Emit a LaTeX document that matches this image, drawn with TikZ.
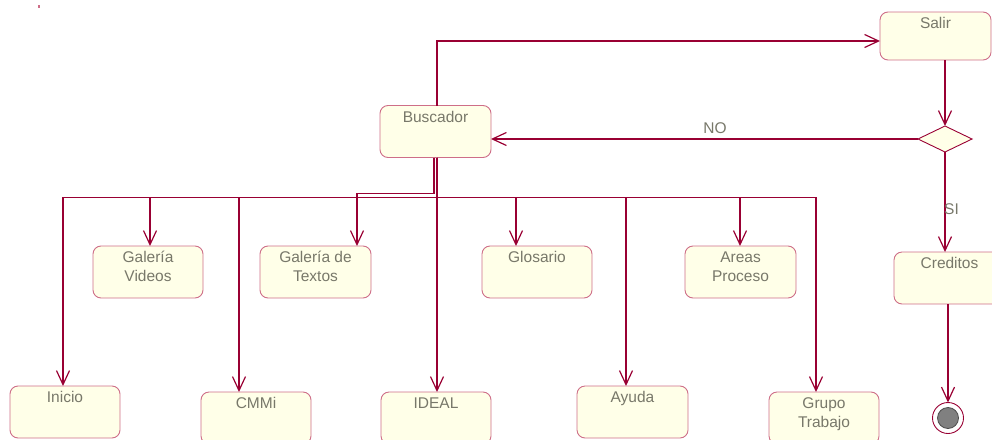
\documentclass[tikz,border=0pt]{standalone}
\usepackage{fontspec}
\setmainfont{Liberation Sans}
\usetikzlibrary{arrows.meta,shapes.geometric}
\definecolor{flow}{RGB}{153,0,51}
\definecolor{stateedge}{RGB}{206,110,136}
\definecolor{statefill}{RGB}{255,255,232}
\definecolor{statetext}{RGB}{120,120,106}
\definecolor{corefill}{RGB}{128,128,128}
\begin{document}
\begin{tikzpicture}[x=1pt,y=-1pt,
  state/.style={draw=stateedge, fill=statefill, line width=0.9pt,
    rounded corners=8pt, minimum width=111pt, minimum height=52pt,
    inner sep=0pt, outer sep=0pt},
  stxt/.style={anchor=north, inner sep=0pt, text=statetext, align=center,
    font=\fontsize{15.5}{19}\selectfont},
  lab/.style={inner sep=0pt, text=statetext, font=\fontsize{15.5}{19}\selectfont},
  conn/.style={draw=flow, line width=1.8pt,
    -{Straight Barb[length=14pt,width=13pt,line width=1.2pt]}},
  decision/.style={diamond, draw=flow, fill=statefill, line width=0.9pt,
    minimum width=54pt, minimum height=26pt, inner sep=0pt, outer sep=0pt}]
\useasboundingbox (0,0) rectangle (992,439);
\clip (0,0) rectangle (992,439);

% small mark in the corner
\fill[stateedge] (38,5) rectangle (39.5,7.5);

% states
\node[state] (busc) at (435.5,131.5) {};
\node[stxt] (busc-t) at ([yshift=-1.5pt]busc.north) {\rule{0pt}{15pt}Buscador};
\node[state, minimum height=48pt] (salir) at (935.5,36) {};
\node[stxt] (salir-t) at ([yshift=-1.5pt]salir.north) {\rule{0pt}{15pt}Salir};
\node[decision] (dec) at (945,139) {};
\node[state] (cred) at (949.5,278) {};
\node[stxt] (cred-t) at ([yshift=-1.5pt]cred.north) {\rule{0pt}{15pt}Creditos};
\node[circle, draw=flow, fill=white, line width=0.9pt, minimum size=31pt,
  inner sep=0pt, outer sep=0pt] (fin) at (948,418) {};
\node[circle, draw=black!70, fill=corefill, line width=0.8pt, minimum size=21pt,
  inner sep=0pt] (fin-core) at (fin) {};

\node[state, minimum width=110pt] (gvid) at (148,272) {};
\node[stxt] (gvid-t) at ([yshift=-1.5pt]gvid.north) {\rule{0pt}{15pt}Galería\\Videos};
\node[state] (gtxt) at (315.5,272) {};
\node[stxt] (gtxt-t) at ([yshift=-1.5pt]gtxt.north) {\rule{0pt}{15pt}Galería de\\Textos};
\node[state, minimum width=110pt] (glos) at (537,272) {};
\node[stxt] (glos-t) at ([yshift=-1.5pt]glos.north) {\rule{0pt}{15pt}Glosario};
\node[state] (areas) at (740.5,272) {};
\node[stxt] (areas-t) at ([yshift=-1.5pt]areas.north) {\rule{0pt}{15pt}Areas\\Proceso};

\node[state, minimum width=110pt] (ini) at (65,412) {};
\node[stxt] (ini-t) at ([yshift=-1.5pt]ini.north) {\rule{0pt}{15pt}Inicio};
\node[state, minimum width=110pt] (cmmi) at (256,418) {};
\node[stxt] (cmmi-t) at ([yshift=-1.5pt]cmmi.north) {\rule{0pt}{15pt}CMMi};
\node[state, minimum width=110pt] (ideal) at (436,418) {};
\node[stxt] (ideal-t) at ([yshift=-1.5pt]ideal.north) {\rule{0pt}{15pt}IDEAL};
\node[state] (ayuda) at (632.5,412) {};
\node[stxt] (ayuda-t) at ([yshift=-1.5pt]ayuda.north) {\rule{0pt}{15pt}Ayuda};
\node[state, minimum width=110pt] (grupo) at (824,418) {};
\node[stxt] (grupo-t) at ([yshift=-1.5pt]grupo.north) {\rule{0pt}{15pt}Grupo\\Trabajo};

% transitions on the right
\draw[conn] ([xshift=1.5pt]busc.north) |- ([yshift=-5pt]salir.west);
\draw[conn] (salir.south -| dec.north) -- (dec.north);
\draw[conn] (dec.west) -- (dec.west -| busc.east);
\node[lab] (lno) at (715,128) {NO};
\draw[conn] (dec.south) -- (dec.south |- cred.north);
\node[lab] (lsi) at (951.5,209) {SI};
\draw[conn] (cred.south -| fin.north) -- (fin.north);

% transitions out of the search state
\draw[conn] ([xshift=1.5pt]busc.south) -- ++(0,40) -| ([xshift=-2pt]ini.north);
\draw[conn] ([xshift=1.5pt]busc.south) -- ++(0,40) -| ([xshift=2pt]gvid.north);
\draw[conn] ([xshift=1.5pt]busc.south) -- ++(0,40) -| ([xshift=-17pt]cmmi.north);
\draw[conn] ([xshift=1.5pt]busc.south) -- ([xshift=1pt]ideal.north);
\draw[conn] ([xshift=1.5pt]busc.south) -- ++(0,40) -| ([xshift=-21pt]glos.north);
\draw[conn] ([xshift=1.5pt]busc.south) -- ++(0,40) -| ([xshift=-6.5pt]ayuda.north);
\draw[conn] ([xshift=1.5pt]busc.south) -- ++(0,40) -| ([xshift=-0.5pt]areas.north);
\draw[conn] ([xshift=1.5pt]busc.south) -- ++(0,40) -| ([xshift=-8pt]grupo.north);
\draw[conn] ([xshift=-1.5pt]busc.south) -- ++(0,36) -| ([xshift=41.5pt]gtxt.north);
\end{tikzpicture}
\end{document}
